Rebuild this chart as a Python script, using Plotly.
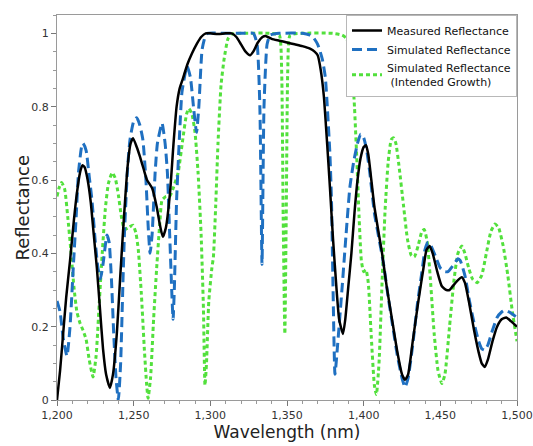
import plotly.graph_objects as go

# ---------------- data ----------------
meas_x = [1200, 1202, 1204, 1206, 1208.5, 1211, 1213, 1215, 1216.5, 1218, 1220, 1222, 1224, 1226, 1228,
          1230, 1232, 1234.5, 1236.5, 1239, 1241, 1243, 1246, 1248, 1249.6, 1252, 1254, 1256.5, 1258.7,
          1262, 1265, 1267, 1269, 1271, 1273.7, 1276, 1278, 1280, 1282, 1285, 1288, 1291, 1294, 1297,
          1300, 1305, 1310, 1314, 1317, 1320, 1323, 1325.9, 1328, 1331, 1334, 1336, 1340, 1345, 1350,
          1355, 1360, 1365, 1368, 1370, 1372, 1374, 1376, 1378, 1380, 1382, 1384, 1386.5, 1388, 1390,
          1392, 1394, 1396, 1398, 1400, 1401.5, 1403, 1405, 1407, 1410, 1412, 1415, 1418.5, 1422, 1425,
          1427, 1429, 1432, 1435.5, 1439, 1441, 1443, 1445, 1448, 1451, 1454, 1456, 1458, 1461, 1464,
          1466, 1469, 1472, 1475, 1477, 1479, 1481, 1484, 1487, 1490, 1493, 1496, 1500]
meas_y = [0.0, 0.08, 0.18, 0.28, 0.38, 0.49, 0.565, 0.62, 0.64, 0.635, 0.60, 0.54, 0.45, 0.36, 0.25,
          0.14, 0.07, 0.033, 0.07, 0.18, 0.32, 0.455, 0.635, 0.70, 0.714, 0.69, 0.665, 0.63, 0.60,
          0.578, 0.527, 0.48, 0.445, 0.47, 0.565, 0.70, 0.80, 0.85, 0.875, 0.915, 0.945, 0.97, 0.99, 1.0,
          1.0, 0.998, 1.0, 1.0, 0.99, 0.97, 0.95, 0.94, 0.95, 0.975, 0.99, 0.993, 0.985, 0.98, 0.975,
          0.97, 0.965, 0.958, 0.95, 0.94, 0.90, 0.83, 0.71, 0.58, 0.44, 0.32, 0.22, 0.18, 0.22, 0.31,
          0.40, 0.51, 0.60, 0.66, 0.69, 0.695, 0.67, 0.60, 0.527, 0.45, 0.40, 0.31, 0.22, 0.13, 0.07,
          0.055, 0.07, 0.16, 0.265, 0.36, 0.41, 0.42, 0.40, 0.35, 0.31, 0.30, 0.30, 0.31, 0.325, 0.335,
          0.32, 0.26, 0.19, 0.13, 0.10, 0.09, 0.11, 0.16, 0.20, 0.22, 0.225, 0.215, 0.20]

sim_x = [1200, 1202, 1204, 1206.5, 1208.5, 1210.6, 1212.5, 1214, 1216, 1217, 1219, 1221, 1222.8, 1225,
         1226.7, 1228.3, 1230, 1232.6, 1234, 1235.5, 1237, 1238.5, 1240, 1241.5, 1243, 1244, 1246,
         1247.6, 1250, 1252, 1254, 1256, 1258, 1259.5, 1260.7, 1262, 1264, 1265.5, 1268.5, 1270.5, 1272,
         1273.5, 1275, 1275.7, 1276.5, 1278, 1280, 1281.5, 1284.8, 1287, 1289, 1291, 1292.5, 1294.6,
         1296.5, 1298, 1310, 1320, 1328, 1330.5, 1332.3, 1333.7, 1335, 1337, 1339, 1345, 1360, 1365,
         1367, 1370, 1373, 1375, 1376, 1378, 1379, 1380, 1381.3, 1383, 1386, 1388.5, 1391, 1393.5, 1396,
         1398, 1400, 1402, 1404, 1407, 1410, 1413, 1416, 1419, 1422, 1425, 1427, 1429, 1432, 1435, 1438,
         1440, 1442, 1444, 1447, 1450, 1453, 1455, 1458, 1461.5, 1463, 1466, 1469, 1472, 1475, 1477,
         1479, 1481, 1484, 1487, 1490, 1492, 1495, 1500]
sim_y = [0.27, 0.24, 0.17, 0.12, 0.20, 0.36, 0.50, 0.62, 0.69, 0.70, 0.68, 0.61, 0.545, 0.43,
         0.36, 0.33, 0.37, 0.45, 0.43, 0.33, 0.18, 0.06, 0.0, 0.10, 0.32, 0.455, 0.63,
         0.71, 0.76, 0.77, 0.75, 0.71, 0.60, 0.47, 0.40, 0.45, 0.62, 0.70, 0.755, 0.70, 0.62,
         0.45, 0.28, 0.22, 0.30, 0.545, 0.73, 0.84, 0.91, 0.88, 0.80, 0.73, 0.80, 0.955,
         0.99, 1.0, 1.0, 1.0, 1.0, 0.97, 0.80, 0.37, 0.80, 0.97, 0.995, 1.0, 1.0, 0.995,
         0.99, 0.97, 0.93, 0.88, 0.82, 0.67, 0.545, 0.31, 0.07, 0.15, 0.31, 0.45, 0.58, 0.65, 0.70,
         0.725, 0.715, 0.68, 0.62, 0.51, 0.44, 0.37, 0.28, 0.20, 0.12, 0.06, 0.035, 0.06, 0.15, 0.26, 0.35,
         0.41, 0.43, 0.42, 0.39, 0.36, 0.35, 0.35, 0.365, 0.385, 0.38, 0.34, 0.27, 0.21, 0.16, 0.14,
         0.136, 0.15, 0.19, 0.225, 0.24, 0.245, 0.24, 0.225]

int_x = [1200, 1201.5, 1203, 1205, 1207, 1209, 1211, 1213, 1215, 1217, 1219, 1221, 1223.5, 1225.5,
         1227.5, 1229.5, 1231.5, 1233.5, 1236, 1238, 1240, 1242, 1244, 1246.5, 1249.5, 1251.5, 1253,
         1255, 1257, 1258.5, 1259.4, 1261, 1263, 1265, 1267, 1268.5, 1271, 1273.7, 1276, 1279, 1282,
         1284.5, 1286, 1288, 1290, 1292, 1294, 1295.5, 1296.5, 1297.5, 1299, 1301, 1302, 1303.5, 1305,
         1307, 1309, 1311.5, 1314, 1320, 1340, 1345, 1346.5, 1347.5, 1348.6, 1349.5, 1350.5, 1352, 1360,
         1380, 1386, 1389, 1391, 1393, 1394, 1395.5, 1397, 1398.5, 1400, 1401.5, 1403, 1405, 1407,
         1408.3, 1410, 1412, 1414, 1416, 1418, 1419.5, 1421, 1423, 1426, 1428.5, 1431, 1433, 1435.5,
         1438, 1439.5, 1441.5, 1443.5, 1446, 1448.5, 1451, 1453, 1456, 1459, 1461.5, 1464, 1466,
         1468.5, 1471, 1474, 1477, 1480, 1483, 1485.7, 1488, 1491, 1494, 1497, 1500]
int_y = [0.555, 0.58, 0.593, 0.575, 0.50, 0.41, 0.31, 0.24, 0.21, 0.19, 0.165, 0.11, 0.063, 0.12,
         0.26, 0.40, 0.52, 0.59, 0.62, 0.605, 0.56, 0.50, 0.465, 0.47, 0.477, 0.455, 0.41,
         0.29, 0.136, 0.04, 0.005, 0.06, 0.22, 0.36, 0.48, 0.545, 0.555, 0.557, 0.58, 0.62, 0.71,
         0.78, 0.795, 0.78, 0.73, 0.62, 0.45, 0.25, 0.04, 0.10, 0.27, 0.36, 0.39, 0.53, 0.70,
         0.86, 0.93, 0.985, 0.998, 1.0, 1.0, 0.995, 0.9, 0.5, 0.18, 0.5, 0.9, 0.995, 1.0,
         1.0, 0.995, 0.985, 0.95, 0.87, 0.80, 0.66, 0.50, 0.38, 0.35, 0.355, 0.32, 0.17, 0.04,
         0.015, 0.10, 0.32, 0.52, 0.65, 0.71, 0.715, 0.70, 0.64, 0.53, 0.44, 0.395, 0.39, 0.42,
         0.46, 0.465, 0.43, 0.33, 0.18, 0.08, 0.045, 0.07, 0.20, 0.33, 0.40, 0.42, 0.40,
         0.36, 0.33, 0.32, 0.34, 0.40, 0.46, 0.48, 0.47, 0.42, 0.34, 0.24, 0.16]

names = ["Measured Reflectance", "Simulated Reflectance",
         "Simulated Reflectance<br> (Intended Growth)"]

FONT = "DejaVu Sans"

fig = go.Figure()
fig.add_trace(go.Scatter(x=int_x, y=int_y, mode="lines", name=names[2],
                         line=dict(color="#52e03c", width=3, dash="4px,3px",
                                   shape="spline", smoothing=0.5)))
fig.add_trace(go.Scatter(x=sim_x, y=sim_y, mode="lines", name=names[1],
                         line=dict(color="#1f70c1", width=3, dash="10px,5px",
                                   shape="spline", smoothing=0.5)))
fig.add_trace(go.Scatter(x=meas_x, y=meas_y, mode="lines", name=names[0],
                         line=dict(color="#000000", width=2.5,
                                   shape="spline", smoothing=0.5)))

fig.update_layout(
    width=533, height=446,
    margin=dict(l=57, r=16, t=15, b=46, autoexpand=False),
    paper_bgcolor="white", plot_bgcolor="white",
    font=dict(family=FONT, color="#333333", size=11),
    showlegend=True,
    legend=dict(x=1, y=1, xanchor="right", yanchor="top",
                traceorder="reversed", bgcolor="white",
                bordercolor="#b8b8b8", borderwidth=1,
                font=dict(family=FONT, size=11, color="#111111"),
                itemwidth=30, tracegroupgap=0),
    annotations=[dict(text="Reflectance", xref="paper", yref="paper",
                      x=-0.076, y=0.5, xanchor="center", yanchor="middle",
                      textangle=-90, showarrow=False,
                      font=dict(family=FONT, size=18, color="#222222"))],
)
fig.update_xaxes(
    range=[1200, 1500], dtick=50, tick0=1200, tickformat=",d",
    automargin=False,
    showgrid=False, zeroline=False,
    showline=True, linecolor="#9a9a9a", linewidth=1, mirror=True,
    ticks="outside", ticklen=5, tickcolor="#777777",
    minor=dict(dtick=10, ticks="outside", ticklen=3, tickcolor="#999999"),
    tickfont=dict(size=11, color="#333333"),
    title=dict(text="Wavelength (nm)", font=dict(size=17, color="#222222"), standoff=4),
)
fig.update_yaxes(
    range=[0, 1.05], dtick=0.2, tick0=0,
    automargin=False,
    showgrid=False, zeroline=False,
    showline=True, linecolor="#9a9a9a", linewidth=1, mirror=True,
    ticks="outside", ticklen=5, tickcolor="#777777",
    minor=dict(dtick=0.05, ticks="outside", ticklen=3, tickcolor="#999999"),
    tickfont=dict(size=11, color="#333333"),
)

fig.write_html("out.html")
